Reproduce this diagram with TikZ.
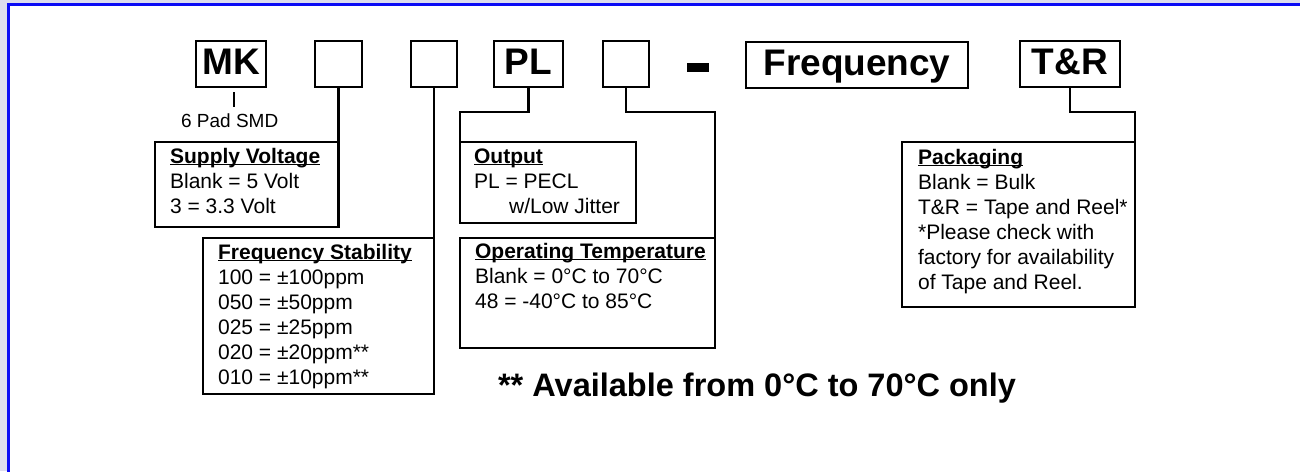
\documentclass[tikz,border=0pt]{standalone}
\usepackage{fontspec}
\setmainfont{Liberation Sans}
\usetikzlibrary{calc}
\definecolor{framebg}{HTML}{DCDCEE}
\definecolor{frameblue}{HTML}{0A0AF5}
\newcommand\hdrline[1]{\setbox0\hbox{\bfseries #1}\rlap{\rule[-2pt]{\wd0}{1.4pt}}\box0}

\begin{document}
\begin{tikzpicture}[x=1pt, y=-1pt, line width=2.2pt,
    codebox/.style={draw, minimum height=46, inner sep=0pt, outer sep=0pt,
      text height=27pt, text depth=7pt, font=\fontsize{37}{40}\selectfont\bfseries},
    infobox/.style={draw, anchor=north west, inner sep=0pt, outer sep=0pt},
    infotext/.style={anchor=north west, inner sep=0pt, align=left,
      font=\fontsize{21}{25}\selectfont}]
  % page frame
  \fill[framebg] (0,0) rectangle (1300,471);
  \useasboundingbox (0,0) rectangle (1300,471);
  \clip (0,0) rectangle (1300,471);
  \filldraw[fill=white, draw=frameblue, line width=3pt] (8.5,4.5) rectangle (1320,490);

  % part number fields
  \node[codebox, minimum width=70] (mk) at (231,64) {MK};
  \node[codebox, minimum width=47] (vb) at (338.5,64) {};
  \node[codebox, minimum width=46] (sb) at (434,64) {};
  \node[codebox, minimum width=69] (pl) at (528.5,64) {PL};
  \node[codebox, minimum width=46] (tb) at (626,64) {};
  \node[fill, minimum width=22, minimum height=9, inner sep=0pt] (sep) at (698,67.5) {};
  \node[codebox, minimum width=222] (freq) at (857,65) {Frequency};
  \node[codebox, minimum width=100] (tr) at (1070,64) {T\&R};

  \node[anchor=base west, inner sep=0pt, font=\fontsize{19}{22}\selectfont] (smd) at (180,127) {6 Pad SMD};
  \draw ($(mk.south)+(3,5)$) -- ($(mk.south)+(3,20)$);

  % description boxes
  \node[infobox, minimum width=183.5, minimum height=85] (supply) at (155,142) {};
  \node[infobox, minimum width=231, minimum height=156] (stab) at (203,238) {};
  \node[infobox, minimum width=176, minimum height=81] (output) at (460,142) {};
  \node[infobox, minimum width=255, minimum height=110] (optemp) at (460,238) {};
  \node[infobox, minimum width=233, minimum height=165] (pack) at (902,142) {};

  \node[infotext] at ($(supply.north west)+(14,4)$) {\rule{0pt}{16pt}\hdrline{Supply Voltage}\\
    Blank = 5 Volt\\ 3 = 3.3 Volt};
  \node[infotext] at ($(stab.north west)+(14,4)$) {\rule{0pt}{16pt}\hdrline{Frequency Stability}\\
    100 = ±100ppm\\ 050 = ±50ppm\\ 025 = ±25ppm\\ 020 = ±20ppm**\\ 010 = ±10ppm**};
  \node[infotext] at ($(output.north west)+(13,4)$) {\rule{0pt}{16pt}\hdrline{Output}\\
    PL = PECL\\ \hspace*{35pt}w/Low Jitter};
  \node[infotext] at ($(optemp.north west)+(14,3)$) {\rule{0pt}{16pt}\hdrline{Operating Temperature}\\
    Blank = 0°C to 70°C\\ 48 = -40°C to 85°C};
  \node[infotext] at ($(pack.north west)+(15,5)$) {\rule{0pt}{16pt}\hdrline{Packaging}\\
    Blank = Bulk\\ T\&R = Tape and Reel*\\ *Please check with\\ factory for availability\\ of Tape and Reel.};

  % connectors
  \coordinate (rowb) at (0,112);
  \draw (vb.south) -- (supply.north east);
  \draw (sb.south) -- (stab.north east);
  \draw (pl.south) |- (output.north west |- rowb) -- (output.north west);
  \draw (tb.south) |- (optemp.north east |- rowb) -- (optemp.north east);
  \draw (tr.south) |- (pack.north east |- rowb) -- (pack.north east);

  \node[anchor=base west, inner sep=0pt, font=\fontsize{32.5}{38}\selectfont\bfseries] (avail) at (497,396)
    {** Available from 0°C to 70°C only};
\end{tikzpicture}
\end{document}
